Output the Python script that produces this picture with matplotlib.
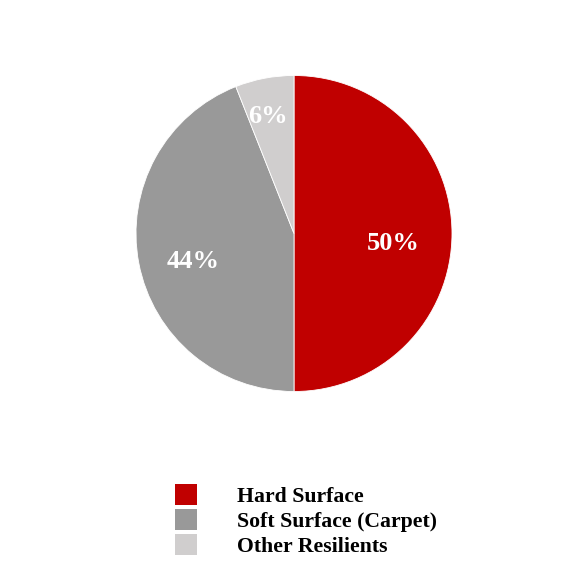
import matplotlib
matplotlib.use("Agg")
import matplotlib.pyplot as plt
import numpy as np
from matplotlib.patches import Patch

categories = ["Hard Surface", "Soft Surface (Carpet)", "Other Resilients"]
values = [50, 44, 6]
colors = ["#C00000", "#999999", "#D0CECE"]
label_dist = [0.63, 0.66, 0.76]
label_ang_offset = [-6.0, 4.8, 1.8]

plt.rcParams['font.family'] = ['Liberation Serif', 'DejaVu Serif']

W = H = 586
fig = plt.figure(figsize=(W/100, H/100), dpi=100)
cx, cy, r = 294, 233.5, 158
ax = fig.add_axes([(cx - r)/W, 1 - (cy + r)/H, 2*r/W, 2*r/H])
wedges, _ = ax.pie(values, colors=colors, startangle=90, counterclock=False,
                   wedgeprops=dict(edgecolor="white", linewidth=0.6))
ax.set_xlim(-1, 1)
ax.set_ylim(-1, 1)
ax.set_aspect("equal")

for w, v, d, off in zip(wedges, values, label_dist, label_ang_offset):
    ang = np.deg2rad((w.theta1 + w.theta2) / 2 + off)
    ax.text(d*np.cos(ang), d*np.sin(ang), f"{v}%", ha="center", va="center",
            color="white", fontsize=19, fontweight="bold")

handles = [Patch(facecolor=c, edgecolor="none") for c in colors]
fig.legend(handles, categories, loc="upper left",
           bbox_to_anchor=(175/W, 1 - 484/H), frameon=False,
           prop=dict(size=15.7, weight="bold"),
           handlelength=1.0, handleheight=1.11, handletextpad=1.84,
           labelspacing=0.1, borderpad=0, borderaxespad=0)

fig.savefig("out.png", dpi=100)
